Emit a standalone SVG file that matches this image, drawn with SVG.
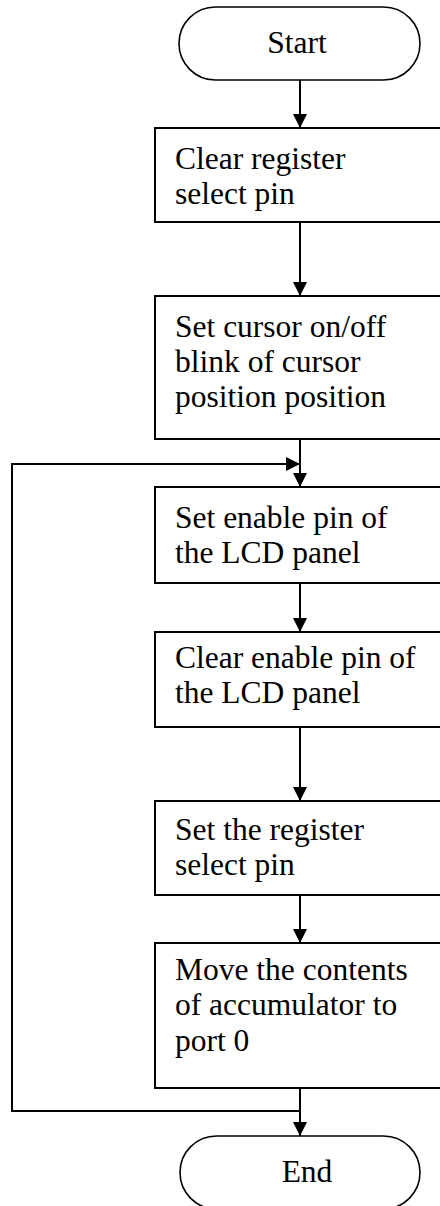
<svg xmlns="http://www.w3.org/2000/svg" width="440" height="1206" viewBox="0 0 440 1206">
<style>
.box{fill:#fff;stroke:#000;stroke-width:2}
.term{fill:#fff;stroke:#000;stroke-width:1.6}
.t{font-family:"Liberation Serif","Times New Roman",serif;font-size:31.5px;fill:#000}
.c{stroke:#000;stroke-width:2;fill:none}
</style>
<defs>
<marker id="ah" markerWidth="14" markerHeight="14" viewBox="0 0 14 14" refX="14" refY="7" orient="auto" markerUnits="userSpaceOnUse">
<path d="M0,0 L14,7 L0,14 Z" fill="#000"/>
</marker>
</defs>
<rect width="440" height="1206" fill="#fff"/>
<g id="connectors">
<line class="c" x1="300" y1="80" x2="300" y2="128" marker-end="url(#ah)"/>
<line class="c" x1="300" y1="222" x2="300" y2="296" marker-end="url(#ah)"/>
<line class="c" x1="300" y1="439" x2="300" y2="487" marker-end="url(#ah)"/>
<line class="c" x1="300" y1="583" x2="300" y2="632" marker-end="url(#ah)"/>
<line class="c" x1="300" y1="727" x2="300" y2="801" marker-end="url(#ah)"/>
<line class="c" x1="300" y1="895" x2="300" y2="943" marker-end="url(#ah)"/>
<line class="c" x1="300" y1="1088" x2="300" y2="1136" marker-end="url(#ah)"/>
<polyline class="c" points="300,1111 12,1111 12,464 300,464" marker-end="url(#ah)"/>
</g>
<g id="start">
<rect class="term" x="179" y="7" width="241" height="73" rx="36.5" ry="36.5"/>
<text class="t" x="297" y="53" text-anchor="middle">Start</text>
</g>
<g id="n1">
<rect class="box" x="155" y="128" width="295" height="94"/>
<text class="t" x="175" y="169">Clear register</text>
<text class="t" x="175" y="204">select pin</text>
</g>
<g id="n2">
<rect class="box" x="155" y="296" width="295" height="143"/>
<text class="t" x="175" y="337">Set cursor on/off</text>
<text class="t" x="175" y="372">blink of cursor</text>
<text class="t" x="175" y="407">position position</text>
</g>
<g id="n3">
<rect class="box" x="155" y="487" width="295" height="96"/>
<text class="t" x="175" y="528">Set enable pin of</text>
<text class="t" x="175" y="563">the LCD panel</text>
</g>
<g id="n4">
<rect class="box" x="155" y="632" width="295" height="95"/>
<text class="t" x="175" y="668">Clear enable pin of</text>
<text class="t" x="175" y="703">the LCD panel</text>
</g>
<g id="n5">
<rect class="box" x="155" y="801" width="295" height="94"/>
<text class="t" x="175" y="840">Set the register</text>
<text class="t" x="175" y="875">select pin</text>
</g>
<g id="n6">
<rect class="box" x="155" y="943" width="295" height="145"/>
<text class="t" x="175" y="980">Move the contents</text>
<text class="t" x="175" y="1015">of accumulator to</text>
<text class="t" x="175" y="1051">port 0</text>
</g>
<g id="end">
<rect class="term" x="180" y="1136" width="240" height="73" rx="36.5" ry="36.5"/>
<text class="t" x="307" y="1182" text-anchor="middle">End</text>
</g>
</svg>
